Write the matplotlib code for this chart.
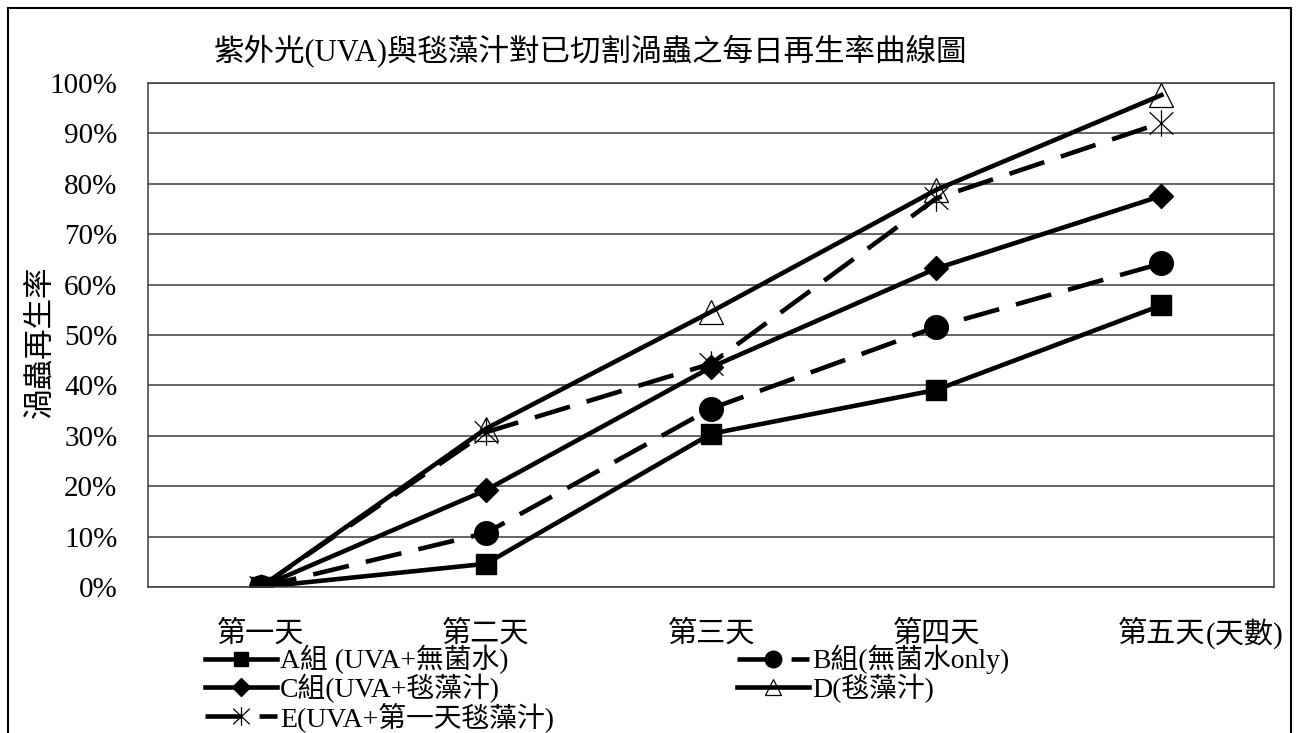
import matplotlib.pyplot as plt
from matplotlib.patches import Rectangle
from matplotlib.path import Path
from matplotlib.ticker import PercentFormatter

W, H = 1306, 733

# daily regeneration rate (%) per group
days = ['第一天', '第二天', '第三天', '第四天', '第五天']
grp_a = [0, 4.6, 30.4, 39.1, 55.9]
grp_b = [0, 10.7, 35.4, 51.6, 64.2]
grp_c = [0, 19.2, 43.6, 63.2, 77.6]
grp_d = [0, 31.4, 54.6, 78.8, 97.6]
grp_e = [0, 30.7, 44.3, 77.1, 92.1]
names = ['A組 (UVA+無菌水)', 'B組(無菌水only)', 'C組(UVA+毯藻汁)',
         'D(毯藻汁)', 'E(UVA+第一天毯藻汁)']

fonts = ['Liberation Serif', 'Noto Sans CJK TC']
plt.rcParams['font.family'] = fonts

# asterisk-like marker: an X with a vertical stroke through it
star = Path([(-0.9, -0.85), (0.9, 0.85), (-0.9, 0.85), (0.9, -0.85), (0, -1), (0, 1)],
            [Path.MOVETO, Path.LINETO, Path.MOVETO, Path.LINETO,
             Path.MOVETO, Path.LINETO])

fig = plt.figure(figsize=(W / 100, H / 100), dpi=100)
ax = fig.add_axes([148 / W, 1 - 587 / H, (1274 - 148) / W, (587 - 83) / H])

x = range(len(days))
lw = 3.3
dash = (8.0, 3.8)
la, = ax.plot(x, grp_a, color='black', lw=lw, marker='s', ms=15, label=names[0])
lb, = ax.plot(x, grp_b, color='black', lw=lw, marker='o', ms=17, dashes=dash,
              label=names[1])
lc, = ax.plot(x, grp_c, color='black', lw=lw, marker='D', ms=12.5, label=names[2])
le, = ax.plot(x, grp_e, color='black', lw=lw, marker=star, ms=19, mew=0.9,
              dashes=dash, label=names[4])
ld, = ax.plot(x, grp_d, color='black', lw=lw, marker='^', ms=17, mfc='none',
              mew=0.9, label=names[3])

ax.set_xlim(-0.5, 4.5)
ax.set_ylim(0, 100)
ax.set_yticks(range(0, 101, 10))
ax.yaxis.set_major_formatter(PercentFormatter(100, decimals=0))
ax.set_xticks(list(x))
ax.set_xticklabels(days)
ax.tick_params(axis='y', length=0, pad=22, labelsize=21)
ax.tick_params(axis='x', length=0, pad=24, labelsize=21)
for t in ax.get_xticklabels() + ax.get_yticklabels():
    t.set_fontfamily(fonts)
ax.grid(axis='y', color='#3c3c3c', lw=1.1)
ax.set_axisbelow(True)
for s in ax.spines.values():
    s.set_color('#3c3c3c')
    s.set_linewidth(1.1)

fig.text(590 / W, 1 - 52 / H, '紫外光(UVA)與毯藻汁對已切割渦蟲之每日再生率曲線圖',
         ha='center', va='center', fontsize=22)
fig.text(42 / W, 1 - 342 / H, '渦蟲再生率', rotation=90, ha='center',
         va='center', fontsize=22)
fig.text(1206 / W, 1 - 634 / H, '(天數)', ha='left', va='center', fontsize=21)

leg_kw = dict(frameon=False, fontsize=20, handlelength=2.6, handletextpad=0.1,
              borderpad=0, borderaxespad=0, labelspacing=-0.03, markerscale=0.7,
              loc='upper left', bbox_transform=fig.transFigure)
leg1 = ax.legend([la, lc, le], [names[0], names[2], names[4]],
                 bbox_to_anchor=(205 / W, 1 - 645 / H), **leg_kw)
ax.add_artist(leg1)
ax.legend([lb, ld], [names[1], names[3]],
          bbox_to_anchor=(737 / W, 1 - 645 / H), **leg_kw)

fig.patches.append(Rectangle((8 / W, -0.1), (1291 - 8) / W, 1.1 - 8 / H,
                             transform=fig.transFigure, fill=False,
                             ec='black', lw=1.5))

fig.savefig('out.png', dpi=100)
